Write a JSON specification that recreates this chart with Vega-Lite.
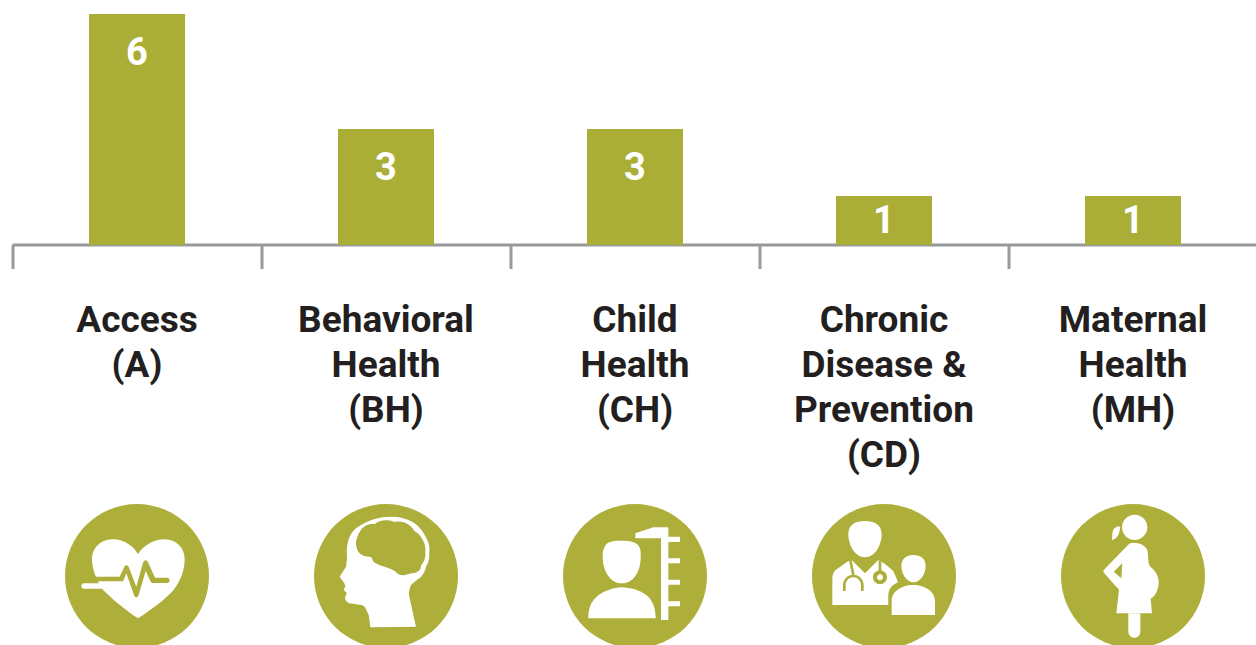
{"$schema":"https://vega.github.io/schema/vega-lite/v6.json","width":1244,"height":245,"autosize":"none","padding":{"left":12,"top":0,"right":0,"bottom":400},"background":"white","config":{"view":{"stroke":null}},
"data":{"values":[{"category":"Access\n(A)","count":6},{"category":"Behavioral\nHealth\n(BH)","count":3},{"category":"Child\nHealth\n(CH)","count":3},{"category":"Chronic\nDisease &\nPrevention\n(CD)","count":1},{"category":"Maternal\nHealth\n(MH)","count":1}]},
"encoding":{"x":{"field":"category","type":"nominal","sort":null,"title":null,"scale":{"type":"band","range":[0.5,1245.5],"paddingInner":0,"paddingOuter":0,"round":false},"axis":{"labelExpr":"split(datum.label,'\\n')","labelAngle":0,"labelAlign":"center","labelBaseline":"top","labelFont":"Roboto","labelFontWeight":700,"labelFontSize":37,"labelLineHeight":45,"labelColor":"#231f20","labelPadding":34,"labelLimit":400,"labelOverlap":false,"labelBound":false,"labelFlush":false,"tickBand":"extent","tickSize":24,"tickWidth":3,"tickColor":"#98999b","domainWidth":3,"domainColor":"#98999b","grid":false,"translate":0}}},
"resolve":{"scale":{"shape":"independent"}},
"layer":[
{"mark":{"type":"bar","width":96,"color":"#aaae37"},"encoding":{"y":{"field":"count","type":"quantitative","axis":null,"scale":{"domain":[-1,0,1,3,6],"range":[576,245,196,129,14],"zero":false,"nice":false}}}},
{"transform":[{"filter":"datum.count>1"}],"mark":{"type":"text","color":"white","font":"Roboto","fontWeight":700,"fontSize":38,"dy":40,"baseline":"middle"},"encoding":{"y":{"field":"count","type":"quantitative"},"text":{"field":"count","type":"quantitative"}}},
{"transform":[{"filter":"datum.count==1"}],"mark":{"type":"text","color":"white","font":"Roboto","fontWeight":700,"fontSize":38,"dy":26,"baseline":"middle"},"encoding":{"y":{"field":"count","type":"quantitative"},"text":{"field":"count","type":"quantitative"}}},
{"mark":{"type":"circle","size":20736,"color":"#adaf3a","opacity":1},"encoding":{"y":{"datum":-1,"type":"quantitative"}}},
{"mark":{"type":"point","filled":true,"size":0.4444,"color":"white","opacity":1,"strokeWidth":0},"encoding":{"y":{"datum":-1,"type":"quantitative"},"shape":{"field":"category","type":"nominal","legend":null,"scale":{"domain":["Access\n(A)","Behavioral\nHealth\n(BH)","Child\nHealth\n(CH)","Chronic\nDisease &\nPrevention\n(CD)","Maternal\nHealth\n(MH)"],"range":[
"M3,-65 C-8,-88 -38,-110 -72,-110 C-108,-110 -135,-85 -135,-50 C-135,-25 -125,5 -105,38 C-75,70 -30,105 3,127 C38,105 85,70 110,42 C130,15 143,-15 143,-50 C143,-85 118,-110 82,-110 C48,-110 15,-88 3,-65 Z M-159,22 A8,8 0 0 0 -159,38 L-90,38 L-90,22 Z",
"M-117,-53 C-120,-95 -112,-125 -90,-143 C-60,-165 -25,-178 15,-178 C60,-178 95,-160 112,-130 C128,-105 132,-90 130,-73 C130,-50 128,-40 120,-28 C116,-10 108,0 100,7 C85,18 75,25 73,32 C68,45 68,55 70,62 L90,152 L-47,154 C-50,130 -50,115 -57,107 C-60,95 -68,87 -75,87 L-110,82 C-118,78 -122,72 -123,67 L-118,50 L-127,42 L-122,30 L-125,22 L-139,2 L-120,-28 Z",
"M-45,-106 C-25,-106 -5,-105 7,-95 C17,-85 18,-70 17,-58 C17,-30 10,-10 -3,5 C-15,18 -30,22 -40,22 C-55,22 -70,15 -80,0 C-92,-15 -97,-40 -97,-58 C-97,-75 -93,-90 -83,-98 C-73,-105 -60,-106 -45,-106 Z M-140,127 C-140,100 -135,80 -115,62 C-95,45 -65,35 -40,34 C-15,35 15,42 35,58 C55,75 62,100 62,127 Z M1,-128 L55,-146 L100,-146 L100,-118 L135,-118 L135,-102 L100,-102 L100,-53 L135,-53 L135,-38 L100,-38 L100,11 L135,11 L135,26 L100,26 L100,76 L135,76 L135,91 L100,91 L100,132 L78,132 L78,-113 L1,-113 Z",
"M-57,-165 C-30,-165 -7,-155 -7,-125 C-7,-95 -25,-56 -57,-56 C-85,-56 -107,-90 -107,-125 C-107,-155 -85,-165 -57,-165 Z M-155,87 L-155,7 C-155,-5 -150,-14 -145,-18 L-110,-43 L-97,-48 L-57,-8 L-17,-48 L0,-38 L25,-18 C32,-8 38,8 42,19 C30,25 20,32 16,42 C12,52 13,60 13,87 Z M88,-63 C110,-63 125,-52 125,-30 C125,-8 110,19 88,19 C68,19 52,-8 52,-30 C52,-52 68,-63 88,-63 Z M23,117 L23,75 C23,45 55,27 88,27 C120,27 153,45 153,75 L153,117 Z",
"M43,-146 A38,38 0 1 1 -33,-146 A38,38 0 1 1 43,-146 Z M-38,-148 C-50,-150 -62,-142 -62,-125 C-62,-118 -63,-112 -63,-107 C-52,-112 -45,-118 -42,-128 Z M0,-100 C-8,-100 -15,-95 -20,-88 L-85,-21 C-90,-16 -90,-12 -86,-8 L-53,29 C-49,33 -45,35 -42,42 L-50,112 L57,112 L53,69 C68,60 77,40 77,19 C77,0 68,-15 50,-30 C45,-40 46,-55 44,-73 C42,-90 20,-100 0,-100 Z M-58,-13 L-32,-38 L-35,7 Z M-14,111 L22,111 L22,167 A18,18 0 0 1 -14,167 Z"
]}}}},
{"transform":[{"filter":"indexof(datum.category,'Child')<0 && indexof(datum.category,'Maternal')<0"}],"mark":{"type":"point","filled":true,"size":0.4444,"color":"#adaf3a","opacity":1,"strokeWidth":0},"encoding":{"y":{"datum":-1,"type":"quantitative"},"shape":{"field":"category","type":"nominal","legend":null,"scale":{"domain":["Access\n(A)","Behavioral\nHealth\n(BH)","Chronic\nDisease &\nPrevention\n(CD)"],"range":[
"M-130,2 L-52,2 L-38,-28 Q-32,-36 -25,-28 L-2,32 L18,-40 Q26,-54 34,-40 L54,5 L90,5 A8,8 0 0 1 90,21 L45,21 L40,15 L26,-15 L5,57 Q-2,72 -9,57 L-32,-8 L-42,16 L-130,16 Z",
"M-87,-113 C-80,-140 -60,-160 -35,-155 C-20,-170 10,-170 25,-162 C50,-168 75,-155 85,-135 C105,-125 122,-95 118,-70 C120,-50 110,-40 105,-30 C105,-15 90,-8 75,-8 C60,-2 40,2 30,-12 C15,-25 -15,-28 -30,-38 C-42,-42 -38,-55 -48,-58 C-65,-58 -85,-65 -88,-85 C-92,-95 -90,-105 -87,-113 Z",
"M-123,45 L-123,27 A31,31 0 0 1 -61,27 L-61,45 L-69,45 L-69,27 A23,23 0 0 0 -115,27 L-115,45 Z M-105,-48 L-97,-48 L-88,-2 L-96,-2 Z M-16,-48 L-8,-42 L-8,-15 L-16,-15 Z M-33,4 A21,21 0 1 1 9,4 A21,21 0 1 1 -33,4 Z M-21,4 A9,9 0 1 0 -3,4 A9,9 0 1 0 -21,4 Z"
]}}}}
]}
